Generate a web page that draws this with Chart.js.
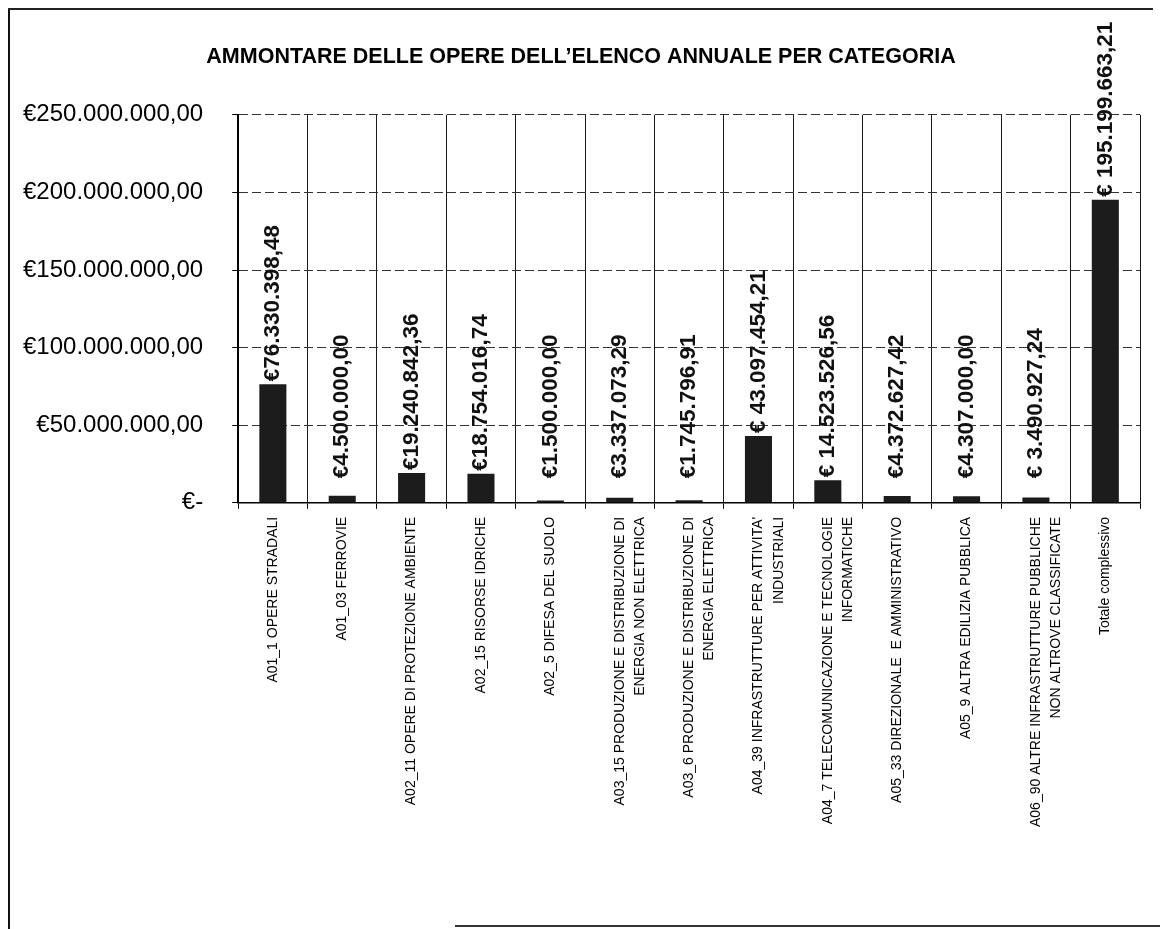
<!DOCTYPE html>
<html>
<head>
<meta charset="utf-8">
<script src="https://cdn.jsdelivr.net/npm/chart.js@4.4.1/dist/chart.umd.min.js"></script>
<style>
  html, body { margin: 0; padding: 0; background: #fff; }
  #wrap { position: relative; width: 1160px; height: 929px; }
  #wrap canvas { position: absolute; left: 0; top: 0; }
  .frame-left { position: absolute; left: 8px; top: 10px; width: 2px; height: 919px; background: #111; }
  .frame-top { position: absolute; left: 8px; top: 8px; width: 1145px; height: 2px; background: #222; }
  .frame-bottom { position: absolute; left: 455px; top: 925px; width: 705px; height: 2px; background: #333; }
</style>
</head>
<body>
<div id="wrap">
  <canvas id="c" width="1160" height="929"></canvas>
  <div class="frame-left"></div>
  <div class="frame-top"></div>
  <div class="frame-bottom"></div>
</div>
<script>
const chartTitle = "AMMONTARE DELLE OPERE DELL\u2019ELENCO ANNUALE PER CATEGORIA";

const categories = [
  "A01_1 OPERE STRADALI",
  "A01_03 FERROVIE",
  "A02_11 OPERE DI PROTEZIONE AMBIENTE",
  "A02_15 RISORSE IDRICHE",
  "A02_5 DIFESA DEL SUOLO",
  ["A03_15 PRODUZIONE E DISTRIBUZIONE DI", "ENERGIA NON ELETTRICA"],
  ["A03_6 PRODUZIONE E DISTRIBUZIONE DI", "ENERGIA ELETTRICA"],
  ["A04_39 INFRASTRUTTURE PER ATTIVITA'", "INDUSTRIALI"],
  ["A04_7 TELECOMUNICAZIONE E TECNOLOGIE", "INFORMATICHE"],
  "A05_33 DIREZIONALE  E AMMINISTRATIVO",
  "A05_9 ALTRA EDILIZIA PUBBLICA",
  ["A06_90 ALTRE INFRASTRUTTURE PUBBLICHE", "NON ALTROVE CLASSIFICATE"],
  "Totale complessivo"
];

const amounts = [
  76330398.48, 4500000.00, 19240842.36, 18754016.74, 1500000.00,
  3337073.29, 1745796.91, 43097454.21, 14523526.56, 4372627.42,
  4307000.00, 3490927.24, 195199663.21
];

const valueLabels = [
  "\u20ac76.330.398,48", "\u20ac4.500.000,00", "\u20ac19.240.842,36", "\u20ac18.754.016,74",
  "\u20ac1.500.000,00", "\u20ac3.337.073,29", "\u20ac1.745.796,91", "\u20ac 43.097.454,21",
  "\u20ac 14.523.526,56", "\u20ac4.372.627,42", "\u20ac4.307.000,00", "\u20ac 3.490.927,24",
  "\u20ac 195.199.663,21"
];

const yTickLabels = [
  "\u20ac-", "\u20ac50.000.000,00", "\u20ac100.000.000,00",
  "\u20ac150.000.000,00", "\u20ac200.000.000,00", "\u20ac250.000.000,00"
];

const FONT = "'Liberation Sans', Arial, sans-serif";

const valueLabelPlugin = {
  id: 'valueLabels',
  afterDatasetsDraw(chart) {
    const ctx = chart.ctx;
    const meta = chart.getDatasetMeta(0);
    ctx.save();
    ctx.fillStyle = '#111';
    ctx.font = 'bold 22.5px ' + FONT;
    ctx.textAlign = 'left';
    ctx.textBaseline = 'middle';
    meta.data.forEach((bar, i) => {
      const anchorY = Math.min(bar.y - 3, bar.base - 24);
      ctx.save();
      ctx.translate(bar.x, anchorY);
      ctx.rotate(-Math.PI / 2);
      ctx.fillText(valueLabels[i], 0, 0);
      ctx.restore();
    });
    ctx.restore();
  }
};

new Chart(document.getElementById('c'), {
  type: 'bar',
  data: {
    labels: categories,
    datasets: [{
      data: amounts,
      backgroundColor: '#1c1c1c',
      borderWidth: 0,
      barPercentage: 0.39,
      categoryPercentage: 1.0
    }]
  },
  options: {
    responsive: false,
    animation: false,
    layout: { padding: { left: 22, right: 20, top: 44, bottom: 94 } },
    plugins: {
      legend: { display: false },
      tooltip: { enabled: false },
      title: {
        display: true,
        text: chartTitle,
        color: '#000',
        font: { family: FONT, size: 21.5, weight: 'bold' },
        padding: { top: 0, bottom: 45 }
      }
    },
    scales: {
      x: {
        grid: {
          offset: true,
          color: '#1a1a1a',
          lineWidth: 1,
          drawTicks: true,
          tickLength: 6,
          tickColor: '#000'
        },
        border: { display: true, color: '#000', width: 1.5, dash: [] },
        ticks: {
          color: '#000',
          font: { family: FONT, size: 14, lineHeight: 1.45 },
          maxRotation: 90,
          minRotation: 90,
          autoSkip: false,
          padding: 8
        }
      },
      y: {
        min: 0,
        max: 250000000,
        afterFit: function(scale) { scale.width = scale.width - 28; },
        grid: {
          color: '#333',
          lineWidth: 1,
          tickLength: 6,
          tickColor: '#000'
        },
        border: { display: true, color: '#000', width: 2, dash: [9, 4] },
        ticks: {
          stepSize: 50000000,
          color: '#000',
          font: { family: FONT, size: 24 },
          padding: 29,
          callback: function(value, index) { return yTickLabels[index]; }
        }
      }
    }
  },
  plugins: [valueLabelPlugin]
});
</script>
</body>
</html>
